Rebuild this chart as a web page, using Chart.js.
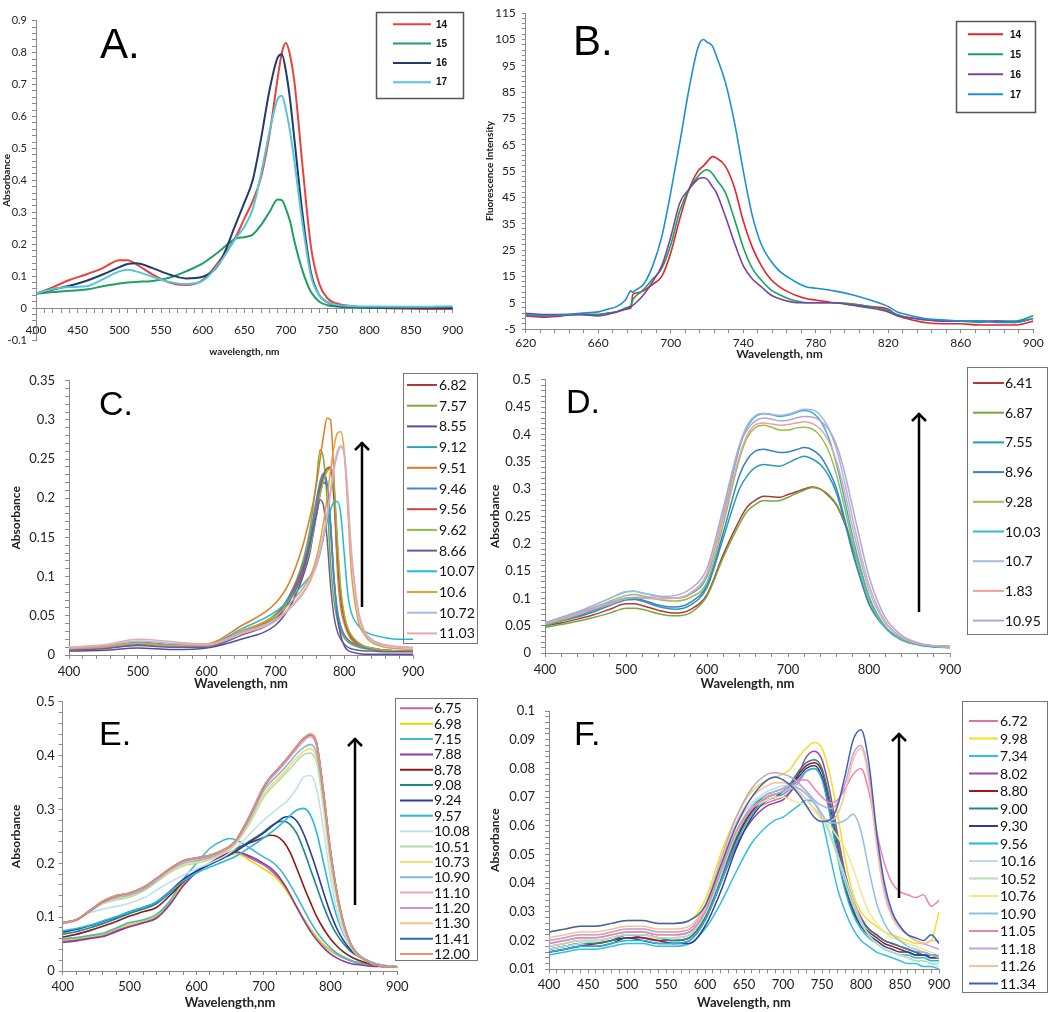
<!DOCTYPE html>
<html><head><meta charset="utf-8">
<script src="https://cdn.jsdelivr.net/npm/chart.js@4.4.0/dist/chart.umd.min.js"></script>
<style>
html,body{margin:0;padding:0;background:#fff;}
body{width:1050px;height:1012px;position:relative;overflow:hidden;}
.panel{position:absolute;}
</style></head><body>
<div class="panel" id="pA"><canvas></canvas></div>
<div class="panel" id="pB"><canvas></canvas></div>
<div class="panel" id="pC"><canvas></canvas></div>
<div class="panel" id="pD"><canvas></canvas></div>
<div class="panel" id="pE"><canvas></canvas></div>
<div class="panel" id="pF"><canvas></canvas></div>
<script>
// ---------------- Panel A: absorbance, compounds 14-17 ----------------
const wavelengthsA = [400,420,440,460,480,500,510,520,540,560,580,600,620,640,650,660,670,680,690,695,700,705,710,720,730,740,750,760,780,800,850,900];
const absA14 = [0.045,0.065,0.088,0.105,0.125,0.15,0.15,0.138,0.105,0.08,0.072,0.088,0.148,0.225,0.28,0.335,0.41,0.54,0.72,0.80,0.83,0.79,0.71,0.44,0.19,0.075,0.03,0.015,0.006,0.002,-0.002,-0.003];
const absA15 = [0.045,0.05,0.054,0.058,0.068,0.077,0.08,0.082,0.085,0.095,0.115,0.14,0.178,0.218,0.222,0.23,0.26,0.3,0.34,0.338,0.31,0.27,0.21,0.115,0.05,0.02,0.009,0.005,0.002,0.001,0,0];
const absA16 = [0.045,0.058,0.07,0.085,0.105,0.128,0.138,0.14,0.125,0.105,0.093,0.098,0.14,0.265,0.33,0.4,0.53,0.68,0.785,0.795,0.74,0.65,0.53,0.29,0.11,0.04,0.018,0.008,0.004,0.002,0.001,0];
const absA17 = [0.045,0.06,0.066,0.068,0.09,0.115,0.12,0.115,0.098,0.082,0.075,0.085,0.14,0.22,0.255,0.31,0.42,0.55,0.655,0.665,0.62,0.55,0.46,0.26,0.1,0.04,0.018,0.01,0.006,0.005,0.004,0.006];
const labelsA = ['14','15','16','17'];
const colorsA = ['#e8433a','#20a060','#243a6e','#56c5d8'];

// ---------------- Panel B: fluorescence, compounds 14-17 ----------------
const wavelengthsB = [620,630,640,650,660,665,670,675,678,679,680,685,690,695,700,705,710,715,718,720,723,725,730,735,740,745,750,755,760,765,770,775,780,790,800,810,820,825,830,840,850,860,870,880,890,900];
const fluoB14 = [0,-0.5,0,0.5,0.5,1,1.5,2.5,3,8,8.5,9.5,12,15,24,37,48,55,57,58.5,60.5,60,57,49,36,26,19,14,11,9,7.5,6.5,6,5,4.5,3.5,2.5,0,-1,-2.5,-3,-3,-3.5,-3.5,-3.5,-2];
const fluoB15 = [0.5,0,0.5,0.5,0.5,1,1.5,3,4,6,7,10,14,18,27,40,48,53,55,55.5,54,52,47,37,26,18,13.5,10,8,6.5,5.5,5,5,5,4.5,3.5,2,0.5,-0.5,-1.5,-2,-2,-2.5,-2,-2,0];
const fluoB16 = [1,0.5,0.5,0.5,0,0.5,1.5,2.5,3.5,4,4.5,8,13,19,30,43,48,52,52.5,52,49,47,38,28,19,14,11,8,6.5,5.5,5,5,5,5,4,3,1.5,0,-0.5,-1.5,-2,-2,-2,-2,-2.5,-1];
const fluoB17 = [0.5,0,0.3,1,1.5,2.5,3.5,6,9.5,9,9.5,12,19,30,47,66,86,102,105,104,102.5,99,89,74,55,38,27,21,17,14.5,12.5,11,10.5,9.5,8,6,3.5,1.5,0.5,-1,-1.5,-2,-2,-2.5,-2.5,-1];
const labelsB = ['14','15','16','17'];
const colorsB = ['#e3232b','#1aa35c','#7a42a3','#1b8fd8'];

// ---------------- Panel C ----------------
const wavelengthsC = [400,450,500,550,600,650,700,720,740,750,755,760,765,770,775,780,785,790,795,800,805,810,820,830,840,860,880,900];
const absC_682 = [0.008,0.01,0.015,0.012,0.012,0.028,0.048,0.07,0.11,0.145,0.17,0.195,0.215,0.23,0.238,0.238,0.2,0.12,0.07,0.045,0.03,0.022,0.014,0.01,0.008,0.006,0.005,0.005];
const absC_757 = [0.008,0.01,0.013,0.012,0.012,0.03,0.052,0.075,0.12,0.16,0.19,0.225,0.262,0.25,0.2,0.12,0.07,0.045,0.03,0.022,0.017,0.014,0.01,0.008,0.007,0.005,0.005,0.005];
const absC_855 = [0.005,0.006,0.009,0.007,0.009,0.02,0.038,0.06,0.1,0.13,0.155,0.18,0.205,0.22,0.215,0.17,0.1,0.05,0.025,0.012,0.006,0.004,0.002,0.001,0.001,0.001,0.001,0.001];
const absC_912 = [0.007,0.009,0.013,0.011,0.012,0.03,0.05,0.075,0.115,0.15,0.175,0.2,0.222,0.232,0.215,0.16,0.095,0.055,0.035,0.025,0.02,0.016,0.012,0.01,0.008,0.006,0.005,0.005];
const absC_951 = [0.008,0.011,0.016,0.013,0.014,0.037,0.066,0.092,0.14,0.175,0.195,0.22,0.25,0.28,0.302,0.3,0.23,0.11,0.06,0.04,0.028,0.02,0.013,0.01,0.008,0.006,0.005,0.005];
const absC_946 = [0.007,0.009,0.014,0.012,0.012,0.03,0.05,0.074,0.113,0.148,0.172,0.197,0.218,0.23,0.22,0.17,0.1,0.058,0.037,0.026,0.02,0.016,0.012,0.009,0.008,0.006,0.005,0.005];
const absC_956 = [0.008,0.01,0.016,0.013,0.012,0.03,0.05,0.072,0.11,0.14,0.16,0.185,0.21,0.228,0.238,0.24,0.215,0.14,0.08,0.05,0.034,0.025,0.016,0.011,0.009,0.006,0.005,0.005];
const absC_962 = [0.008,0.01,0.015,0.012,0.012,0.028,0.048,0.07,0.105,0.135,0.155,0.18,0.205,0.222,0.234,0.238,0.22,0.15,0.085,0.052,0.035,0.026,0.016,0.011,0.009,0.006,0.005,0.005];
const absC_866 = [0.006,0.008,0.012,0.01,0.01,0.025,0.045,0.068,0.105,0.14,0.16,0.18,0.198,0.19,0.15,0.09,0.05,0.03,0.02,0.014,0.01,0.008,0.006,0.005,0.005,0.004,0.004,0.004];
const absC_1007 = [0.009,0.011,0.016,0.013,0.013,0.033,0.055,0.07,0.09,0.1,0.105,0.115,0.13,0.15,0.17,0.185,0.195,0.196,0.18,0.13,0.08,0.055,0.038,0.03,0.026,0.022,0.02,0.02];
const absC_1060 = [0.008,0.01,0.015,0.012,0.012,0.03,0.05,0.065,0.085,0.1,0.11,0.125,0.145,0.17,0.2,0.235,0.265,0.283,0.285,0.26,0.19,0.11,0.045,0.025,0.016,0.01,0.008,0.007];
const absC_1072 = [0.009,0.012,0.018,0.015,0.013,0.028,0.045,0.06,0.08,0.095,0.105,0.118,0.135,0.155,0.18,0.21,0.24,0.26,0.267,0.255,0.2,0.13,0.055,0.028,0.018,0.012,0.01,0.009];
const absC_1103 = [0.01,0.013,0.02,0.017,0.014,0.027,0.043,0.058,0.078,0.093,0.103,0.115,0.132,0.152,0.176,0.205,0.235,0.255,0.265,0.258,0.21,0.14,0.06,0.03,0.02,0.013,0.011,0.01];
const labelsC = ['6.82','7.57','8.55','9.12','9.51','9.46','9.56','9.62','8.66','10.07','10.6','10.72','11.03'];
const colorsC = ['#b03a3a','#7aab3a','#5a4a9a','#2aa5b8','#e07b22','#4a86c8','#cc4444','#8bbf4a','#6a5aa0','#22b8d8','#f39a30','#a8bfe0','#e8a8b0'];

// ---------------- Panel D ----------------
const wavelengthsD = [400,420,440,460,480,500,510,520,540,560,580,600,620,640,650,660,670,680,690,700,710,720,730,740,750,760,770,780,790,800,820,840,860,880,900];
const absD_641 = [0.05,0.055,0.062,0.07,0.08,0.09,0.09,0.087,0.078,0.073,0.08,0.107,0.18,0.243,0.268,0.28,0.287,0.286,0.285,0.29,0.295,0.3,0.304,0.3,0.288,0.27,0.237,0.193,0.148,0.1,0.048,0.025,0.016,0.013,0.012];
const absD_687 = [0.047,0.052,0.058,0.065,0.073,0.082,0.082,0.08,0.072,0.068,0.074,0.104,0.175,0.236,0.26,0.272,0.279,0.278,0.279,0.285,0.292,0.298,0.303,0.3,0.29,0.272,0.24,0.196,0.15,0.102,0.047,0.024,0.016,0.013,0.012];
const absD_755 = [0.05,0.058,0.066,0.075,0.087,0.097,0.098,0.095,0.085,0.08,0.088,0.12,0.21,0.3,0.325,0.34,0.345,0.343,0.342,0.348,0.355,0.36,0.355,0.345,0.325,0.292,0.24,0.182,0.133,0.09,0.046,0.024,0.015,0.011,0.01];
const absD_896 = [0.052,0.06,0.068,0.078,0.09,0.1,0.1,0.097,0.088,0.084,0.093,0.125,0.22,0.325,0.355,0.37,0.373,0.37,0.367,0.368,0.372,0.376,0.372,0.36,0.335,0.3,0.245,0.185,0.135,0.09,0.047,0.025,0.016,0.012,0.01];
const absD_928 = [0.052,0.06,0.07,0.082,0.095,0.105,0.107,0.105,0.098,0.095,0.102,0.13,0.235,0.355,0.395,0.413,0.417,0.413,0.408,0.408,0.412,0.413,0.41,0.397,0.37,0.325,0.265,0.2,0.145,0.097,0.046,0.024,0.016,0.013,0.012];
const absD_1003 = [0.055,0.065,0.075,0.087,0.1,0.112,0.113,0.11,0.104,0.1,0.108,0.14,0.25,0.375,0.415,0.433,0.438,0.436,0.433,0.435,0.44,0.444,0.44,0.425,0.395,0.345,0.28,0.212,0.153,0.103,0.048,0.025,0.016,0.012,0.01];
const absD_107 = [0.055,0.065,0.075,0.087,0.1,0.112,0.113,0.11,0.104,0.1,0.11,0.145,0.255,0.38,0.418,0.435,0.439,0.437,0.435,0.437,0.442,0.446,0.445,0.435,0.412,0.372,0.312,0.245,0.18,0.125,0.058,0.03,0.018,0.013,0.011];
const absD_183 = [0.053,0.062,0.07,0.08,0.09,0.1,0.101,0.1,0.099,0.1,0.11,0.145,0.245,0.36,0.4,0.418,0.421,0.419,0.417,0.418,0.421,0.423,0.42,0.41,0.388,0.35,0.295,0.228,0.168,0.115,0.055,0.028,0.017,0.013,0.011];
const absD_1095 = [0.055,0.064,0.073,0.083,0.093,0.1,0.102,0.102,0.103,0.105,0.118,0.155,0.265,0.38,0.41,0.425,0.43,0.428,0.425,0.426,0.43,0.433,0.432,0.425,0.41,0.38,0.33,0.265,0.2,0.14,0.065,0.033,0.019,0.013,0.01];
const labelsD = ['6.41','6.87','7.55','8.96','9.28','10.03','10.7','1.83','10.95'];
const colorsD = ['#b03a3a','#78a83a','#2a9ab0','#3a80c8','#98c050','#30b8d8','#a8b8e0','#eea0a0','#b0a8d0'];

// ---------------- Panel E ----------------
const wavelengthsE = [400,420,440,460,480,500,520,540,560,580,600,620,640,650,660,680,700,710,720,730,740,750,760,770,780,790,800,810,820,830,840,860,880,900];
const absE_675 = [0.055,0.058,0.062,0.066,0.075,0.083,0.09,0.1,0.125,0.16,0.185,0.2,0.213,0.218,0.22,0.21,0.197,0.188,0.176,0.16,0.14,0.118,0.097,0.078,0.062,0.048,0.038,0.03,0.024,0.019,0.015,0.011,0.008,0.007];
const absE_698 = [0.058,0.06,0.064,0.068,0.078,0.087,0.093,0.102,0.128,0.162,0.186,0.2,0.212,0.216,0.218,0.205,0.19,0.182,0.172,0.157,0.138,0.117,0.097,0.078,0.062,0.049,0.039,0.031,0.025,0.02,0.016,0.011,0.008,0.007];
const absE_715 = [0.06,0.062,0.066,0.07,0.08,0.09,0.095,0.105,0.13,0.17,0.2,0.228,0.243,0.246,0.243,0.228,0.212,0.205,0.195,0.18,0.16,0.138,0.115,0.092,0.072,0.056,0.043,0.033,0.026,0.02,0.016,0.012,0.009,0.008];
const absE_788 = [0.053,0.056,0.06,0.064,0.073,0.082,0.089,0.098,0.123,0.158,0.183,0.2,0.215,0.22,0.221,0.213,0.2,0.192,0.18,0.163,0.142,0.118,0.095,0.074,0.057,0.043,0.032,0.024,0.018,0.014,0.012,0.009,0.008,0.007];
const absE_878 = [0.063,0.068,0.075,0.083,0.092,0.102,0.11,0.118,0.14,0.165,0.185,0.2,0.213,0.22,0.228,0.238,0.248,0.252,0.25,0.24,0.22,0.19,0.158,0.128,0.1,0.078,0.06,0.046,0.035,0.027,0.021,0.013,0.009,0.007];
const absE_908 = [0.068,0.073,0.08,0.088,0.097,0.107,0.115,0.125,0.145,0.168,0.185,0.198,0.21,0.217,0.225,0.242,0.258,0.268,0.276,0.278,0.272,0.255,0.225,0.19,0.155,0.12,0.09,0.067,0.05,0.037,0.028,0.016,0.01,0.008];
const absE_924 = [0.072,0.077,0.084,0.092,0.1,0.11,0.118,0.128,0.148,0.17,0.186,0.198,0.21,0.216,0.223,0.24,0.256,0.266,0.276,0.285,0.287,0.278,0.255,0.222,0.185,0.145,0.108,0.078,0.056,0.04,0.029,0.016,0.01,0.008];
const absE_957 = [0.075,0.079,0.085,0.093,0.101,0.11,0.118,0.128,0.147,0.167,0.182,0.193,0.203,0.208,0.214,0.23,0.247,0.256,0.266,0.277,0.289,0.299,0.302,0.29,0.255,0.2,0.145,0.1,0.068,0.046,0.032,0.017,0.01,0.008];
const absE_1008 = [0.088,0.095,0.108,0.115,0.12,0.126,0.135,0.15,0.165,0.178,0.19,0.2,0.212,0.22,0.23,0.255,0.28,0.29,0.3,0.31,0.322,0.34,0.36,0.363,0.335,0.26,0.175,0.11,0.07,0.045,0.03,0.016,0.01,0.008];
const absE_1051 = [0.09,0.095,0.11,0.125,0.132,0.137,0.148,0.165,0.183,0.195,0.2,0.207,0.218,0.226,0.238,0.275,0.322,0.338,0.35,0.363,0.376,0.39,0.402,0.405,0.385,0.3,0.2,0.13,0.078,0.046,0.03,0.015,0.009,0.007];
const absE_1073 = [0.09,0.095,0.11,0.126,0.134,0.139,0.15,0.167,0.185,0.197,0.202,0.209,0.22,0.228,0.24,0.278,0.327,0.343,0.355,0.368,0.382,0.396,0.408,0.413,0.393,0.308,0.207,0.135,0.081,0.048,0.031,0.015,0.009,0.007];
const absE_1090 = [0.088,0.094,0.11,0.127,0.136,0.141,0.151,0.168,0.187,0.2,0.205,0.211,0.222,0.23,0.242,0.283,0.334,0.35,0.362,0.375,0.389,0.404,0.415,0.421,0.402,0.318,0.215,0.14,0.085,0.05,0.032,0.015,0.009,0.007];
const absE_1110 = [0.089,0.094,0.111,0.128,0.138,0.143,0.153,0.17,0.188,0.203,0.208,0.213,0.223,0.23,0.243,0.287,0.338,0.356,0.369,0.383,0.398,0.413,0.427,0.435,0.415,0.326,0.222,0.143,0.087,0.051,0.032,0.015,0.009,0.007];
const absE_1120 = [0.09,0.094,0.111,0.129,0.139,0.144,0.154,0.171,0.189,0.204,0.209,0.214,0.224,0.231,0.244,0.288,0.34,0.358,0.371,0.385,0.4,0.416,0.43,0.438,0.418,0.328,0.223,0.144,0.087,0.051,0.033,0.015,0.009,0.007];
const absE_1130 = [0.09,0.095,0.112,0.13,0.14,0.145,0.155,0.172,0.19,0.205,0.21,0.215,0.225,0.232,0.245,0.29,0.342,0.36,0.373,0.387,0.402,0.418,0.432,0.44,0.42,0.33,0.225,0.145,0.088,0.052,0.033,0.015,0.009,0.007];
const absE_1141 = [0.09,0.095,0.112,0.129,0.14,0.145,0.155,0.172,0.19,0.205,0.21,0.215,0.225,0.232,0.245,0.29,0.341,0.36,0.373,0.387,0.402,0.418,0.432,0.439,0.42,0.33,0.225,0.145,0.088,0.052,0.033,0.015,0.009,0.007];
const absE_1200 = [0.09,0.095,0.112,0.13,0.14,0.145,0.155,0.172,0.19,0.205,0.21,0.215,0.225,0.232,0.245,0.29,0.342,0.36,0.373,0.387,0.402,0.418,0.432,0.44,0.42,0.33,0.225,0.145,0.088,0.052,0.033,0.015,0.009,0.007];
const labelsE = ['6.75','6.98','7.15','7.88','8.78','9.08','9.24','9.57','10.08','10.51','10.73','10.90','11.10','11.20','11.30','11.41','12.00'];
const colorsE = ['#c060b0','#e8d800','#40b8c8','#8a3aa8','#8b1a1a','#1a8a80','#2a3a98','#28b8e0','#c0e0ea','#b8d8a8','#f0e070','#80b8e8','#f0a0c8','#c098d0','#f8c090','#2a6ab8','#f09070'];

// ---------------- Panel F ----------------
const wavelengthsF = [400,420,440,460,480,500,520,540,560,580,600,620,640,660,680,690,700,710,720,730,740,750,760,770,780,790,800,810,820,830,840,850,860,870,880,890,900];
const absF_672 = [0.018,0.019,0.02,0.02,0.021,0.022,0.022,0.021,0.021,0.022,0.03,0.043,0.056,0.065,0.068,0.069,0.07,0.072,0.075,0.079,0.08,0.077,0.068,0.055,0.043,0.034,0.028,0.024,0.022,0.02,0.019,0.018,0.017,0.016,0.016,0.015,0.014];
const absF_998 = [0.023,0.024,0.025,0.025,0.026,0.027,0.027,0.026,0.026,0.027,0.034,0.05,0.063,0.072,0.076,0.077,0.078,0.08,0.084,0.087,0.089,0.087,0.078,0.064,0.048,0.036,0.03,0.027,0.025,0.023,0.022,0.021,0.02,0.019,0.019,0.02,0.03];
const absF_734 = [0.015,0.016,0.017,0.017,0.018,0.019,0.019,0.018,0.018,0.019,0.024,0.033,0.044,0.054,0.06,0.062,0.063,0.065,0.067,0.069,0.068,0.062,0.05,0.038,0.03,0.024,0.02,0.018,0.016,0.015,0.014,0.013,0.012,0.012,0.011,0.011,0.01];
const absF_802 = [0.017,0.018,0.019,0.019,0.02,0.022,0.021,0.02,0.02,0.021,0.028,0.04,0.053,0.062,0.067,0.068,0.069,0.072,0.078,0.084,0.086,0.083,0.072,0.057,0.043,0.034,0.028,0.024,0.022,0.02,0.019,0.018,0.017,0.016,0.015,0.015,0.014];
const absF_880 = [0.016,0.017,0.018,0.019,0.02,0.021,0.021,0.02,0.019,0.02,0.027,0.04,0.055,0.065,0.07,0.071,0.072,0.074,0.078,0.081,0.082,0.079,0.068,0.053,0.04,0.031,0.026,0.023,0.021,0.019,0.018,0.017,0.016,0.015,0.015,0.014,0.014];
const absF_900 = [0.017,0.018,0.019,0.019,0.02,0.022,0.022,0.021,0.02,0.021,0.028,0.041,0.056,0.066,0.071,0.072,0.073,0.075,0.079,0.082,0.083,0.08,0.069,0.054,0.041,0.032,0.027,0.024,0.022,0.02,0.019,0.018,0.017,0.016,0.015,0.015,0.015];
const absF_930 = [0.016,0.017,0.018,0.018,0.019,0.021,0.02,0.019,0.019,0.019,0.025,0.037,0.052,0.063,0.069,0.07,0.072,0.074,0.077,0.08,0.081,0.077,0.065,0.05,0.038,0.03,0.025,0.022,0.02,0.018,0.017,0.016,0.016,0.015,0.015,0.014,0.014];
const absF_956 = [0.016,0.017,0.018,0.018,0.019,0.02,0.02,0.019,0.019,0.02,0.027,0.04,0.054,0.064,0.069,0.07,0.071,0.073,0.076,0.079,0.08,0.076,0.064,0.049,0.037,0.029,0.024,0.021,0.019,0.017,0.016,0.015,0.015,0.014,0.014,0.013,0.013];
const absF_1016 = [0.017,0.018,0.019,0.02,0.021,0.022,0.022,0.021,0.021,0.022,0.03,0.045,0.06,0.068,0.072,0.073,0.074,0.074,0.074,0.072,0.069,0.064,0.058,0.05,0.042,0.034,0.027,0.022,0.019,0.017,0.016,0.015,0.014,0.013,0.013,0.012,0.011];
const absF_1052 = [0.018,0.019,0.02,0.02,0.021,0.022,0.022,0.021,0.021,0.022,0.029,0.043,0.057,0.066,0.07,0.071,0.072,0.073,0.073,0.071,0.068,0.063,0.057,0.049,0.04,0.032,0.026,0.022,0.019,0.017,0.016,0.015,0.014,0.013,0.013,0.012,0.012];
const absF_1076 = [0.02,0.021,0.022,0.022,0.023,0.024,0.024,0.023,0.023,0.024,0.031,0.045,0.058,0.066,0.069,0.07,0.07,0.069,0.068,0.067,0.065,0.062,0.06,0.056,0.052,0.045,0.037,0.03,0.026,0.023,0.021,0.02,0.019,0.018,0.017,0.016,0.015];
const absF_1090 = [0.019,0.02,0.021,0.021,0.022,0.023,0.023,0.022,0.022,0.023,0.03,0.044,0.058,0.067,0.071,0.072,0.073,0.074,0.073,0.071,0.068,0.064,0.061,0.061,0.062,0.064,0.058,0.045,0.033,0.026,0.022,0.02,0.018,0.017,0.016,0.015,0.014];
const absF_1105 = [0.019,0.02,0.021,0.021,0.022,0.023,0.023,0.022,0.022,0.023,0.03,0.044,0.058,0.066,0.07,0.071,0.072,0.074,0.076,0.076,0.073,0.07,0.068,0.069,0.073,0.078,0.08,0.072,0.058,0.047,0.04,0.037,0.036,0.035,0.036,0.032,0.034];
const absF_1118 = [0.02,0.021,0.022,0.022,0.023,0.024,0.024,0.023,0.023,0.024,0.032,0.048,0.063,0.073,0.078,0.0785,0.078,0.077,0.075,0.072,0.069,0.067,0.066,0.068,0.075,0.085,0.088,0.078,0.055,0.038,0.029,0.025,0.022,0.02,0.019,0.018,0.017];
const absF_1126 = [0.021,0.022,0.023,0.023,0.024,0.025,0.025,0.024,0.024,0.025,0.032,0.047,0.061,0.07,0.074,0.075,0.075,0.074,0.072,0.069,0.066,0.063,0.062,0.064,0.072,0.083,0.087,0.076,0.053,0.036,0.028,0.024,0.022,0.02,0.019,0.02,0.02];
const absF_1134 = [0.023,0.024,0.025,0.025,0.026,0.027,0.027,0.026,0.026,0.027,0.032,0.046,0.06,0.07,0.076,0.077,0.076,0.074,0.071,0.067,0.063,0.0615,0.062,0.067,0.078,0.09,0.0935,0.082,0.058,0.04,0.03,0.025,0.022,0.021,0.02,0.022,0.019];
const labelsF = ['6.72','9.98','7.34','8.02','8.80','9.00','9.30','9.56','10.16','10.52','10.76','10.90','11.05','11.18','11.26','11.34'];
const colorsF = ['#e070a8','#f0e020','#30c0e0','#a040a0','#a01818','#208888','#304090','#20b8d8','#b8e0e8','#b8e0b0','#f0e890','#90c0e8','#f080b0','#c0a0d8','#f8c0a0','#4060b8'];

// ---------------- rendering ----------------
const FONT = 'Lato, "Open Sans", "DejaVu Sans", sans-serif';
const ARIAL = '"Liberation Sans", Arial, sans-serif';

const overlay = {
  id: 'overlay',
  afterDraw(chart, args, o) {
    const ctx = chart.ctx, ox = o.ox, oy = o.oy;
    ctx.save();
    if (o.letter) {
      ctx.fillStyle = '#000';
      ctx.font = o.letter.font;
      ctx.textBaseline = 'alphabetic';
      ctx.textAlign = 'left';
      ctx.fillText(o.letter.text, o.letter.x - ox, o.letter.y - oy);
    }
    if (o.arrow) {
      const a = o.arrow;
      ctx.strokeStyle = '#000'; ctx.lineWidth = 2.5; ctx.lineCap = 'butt';
      ctx.beginPath(); ctx.moveTo(a.x - ox, a.y2 - oy); ctx.lineTo(a.x - ox, a.y1 - oy); ctx.stroke();
      ctx.beginPath();
      ctx.moveTo(a.x - ox - 7, a.y1 - oy + 8); ctx.lineTo(a.x - ox, a.y1 - oy + 1); ctx.lineTo(a.x - ox + 7, a.y1 - oy + 8);
      ctx.stroke();
    }
    if (o.legend) {
      const L = o.legend;
      ctx.strokeStyle = L.border; ctx.lineWidth = L.bw;
      ctx.strokeRect(L.x - ox + 0.5, L.y - oy + 0.5, L.w, L.h);
      ctx.font = L.font; ctx.textBaseline = 'middle'; ctx.textAlign = 'left';
      chart.data.datasets.forEach((ds, i) => {
        const yy = L.firstY + i * L.rowH - oy;
        ctx.strokeStyle = ds.borderColor; ctx.lineWidth = L.lw;
        ctx.beginPath(); ctx.moveTo(L.x1 - ox, yy); ctx.lineTo(L.x2 - ox, yy); ctx.stroke();
        ctx.fillStyle = '#111';
        ctx.fillText(ds.label, L.tx - ox, yy + 0.5);
      });
    }
    ctx.restore();
  }
};
Chart.register(overlay);

function isMajor(v, base, step) { const r = (v - base) / step; return Math.abs(r - Math.round(r)) < 1e-6; }
function fmt(v) { return String(parseFloat(v.toFixed(4))); }

function build(id, box, area, p) {
  const wrap = document.getElementById(id);
  Object.assign(wrap.style, {left: box.x + 'px', top: box.y + 'px', width: box.w + 'px', height: box.h + 'px'});
  const n = p.series.length;
  const datasets = p.series.map((vals, i) => ({
    label: p.labels[i],
    data: p.x.map((w, j) => ({x: w, y: vals[j]})),
    borderColor: p.colors[i],
    borderWidth: p.lw,
    pointRadius: 0,
    fill: false,
    cubicInterpolationMode: 'monotone',
    order: n - i
  }));
  const xHeight = p.xZero ? p.xHeight : (box.y + box.h - area.b);
  const padBottom = p.xZero ? (box.y + box.h - area.b) : 0;
  const axisCol = '#8a8a8a';
  new Chart(wrap.querySelector('canvas'), {
    type: 'line',
    data: {datasets},
    options: {
      responsive: true, maintainAspectRatio: false, animation: false,
      layout: {autoPadding: false, padding: {left: 0, top: area.t - box.y, right: box.x + box.w - area.r, bottom: padBottom}},
      plugins: {
        legend: {display: false}, tooltip: {enabled: false},
        overlay: {ox: box.x, oy: box.y, letter: p.letter, arrow: p.arrow, legend: p.legend}
      },
      scales: {
        x: {
          type: 'linear', min: p.xMin, max: p.xMax,
          position: p.xZero ? {y: 0} : 'bottom',
          ticks: {stepSize: p.xMinor, autoSkip: false, maxRotation: 0, color: '#222', padding: p.xTickPad,
            font: {family: FONT, size: p.tickSize},
            callback: v => isMajor(v, p.xMin, p.xMajor) ? fmt(v) : ''},
          grid: {drawOnChartArea: false, color: axisCol, tickLength: 4},
          border: {color: axisCol, width: 1},
          title: {display: true, text: p.xTitle, color: '#222', padding: {top: 0, bottom: 0},
            font: {family: FONT, size: p.xTitleSize, weight: 'bold'}},
          afterFit: s => { s.height = xHeight; }
        },
        y: {
          type: 'linear', min: p.yMin, max: p.yMax,
          ticks: {stepSize: p.yMinor, autoSkip: false, color: '#222', padding: p.yTickPad,
            font: {family: FONT, size: p.yTickSize || p.tickSize},
            callback: v => isMajor(v, p.yMin, p.yMajor) ? fmt(v) : ''},
          grid: {drawOnChartArea: false, color: axisCol, tickLength: 4},
          border: {color: axisCol, width: 1},
          title: {display: true, text: p.yTitle, color: '#222', padding: {top: p.yTitlePad, bottom: 0},
            font: {family: FONT, size: p.yTitleSize, weight: 'bold'}},
          afterFit: s => { s.width = area.l - box.x; }
        }
      }
    }
  });
}

build('pA', {x:0,y:0,w:480,h:362}, {l:36,t:20.7,r:452.7,b:340}, {
  x: wavelengthsA, series: [absA14, absA15, absA16, absA17], labels: labelsA, colors: colorsA, lw: 2,
  xMin:400, xMax:900, xMinor:10, xMajor:50, yMin:-0.1, yMax:0.9, yMinor:0.02, yMajor:0.1,
  xZero: true, xHeight: 50, tickSize: 12, yTickSize: 11, xTickPad: 11, yTickPad: 5,
  xTitle: 'wavelength, nm', xTitleSize: 10, yTitle: 'Absorbance', yTitleSize: 10, yTitlePad: 1,
  letter: {text: 'A.', x: 100, y: 58, font: '42px ' + ARIAL},
  legend: {x:376, y:12, w:87, h:86, firstY:24.3, rowH:19.3, x1:393, x2:431, tx:436, font:'bold 10px ' + ARIAL, lw:2, border:'#555', bw:1.5}
});
build('pB', {x:480,y:0,w:570,h:361}, {l:525.8,t:6,r:1033.3,b:329}, {
  x: wavelengthsB, series: [fluoB14, fluoB15, fluoB16, fluoB17], labels: labelsB, colors: colorsB, lw: 1.6,
  xMin:620, xMax:900, xMinor:8, xMajor:40, yMin:-5, yMax:115, yMinor:2, yMajor:10,
  tickSize: 12, xTickPad: 3, yTickPad: 6,
  xTitle: 'Wavelength, nm', xTitleSize: 12, yTitle: 'Fluorescence Intensity', yTitleSize: 10, yTitlePad: 4,
  letter: {text: 'B.', x: 573, y: 55, font: '42px ' + ARIAL},
  legend: {x:956, y:21, w:79, h:91, firstY:34.3, rowH:20, x1:968, x2:1003, tx:1010, font:'bold 10px ' + ARIAL, lw:2, border:'#555', bw:1.5}
});
build('pC', {x:0,y:362,w:480,h:330}, {l:69,t:380.7,r:413,b:655}, {
  x: wavelengthsC, series: [absC_682,absC_757,absC_855,absC_912,absC_951,absC_946,absC_956,absC_962,absC_866,absC_1007,absC_1060,absC_1072,absC_1103],
  labels: labelsC, colors: colorsC, lw: 1.5,
  xMin:400, xMax:900, xMinor:20, xMajor:100, yMin:0, yMax:0.35, yMinor:0.01, yMajor:0.05,
  tickSize: 13, xTickPad: 5, yTickPad: 10,
  xTitle: 'Wavelength, nm', xTitleSize: 13, yTitle: 'Absorbance', yTitleSize: 12, yTitlePad: 9,
  letter: {text: 'C.', x: 99, y: 415, font: '34px ' + ARIAL},
  arrow: {x: 362, y1: 442, y2: 607},
  legend: {x:403, y:373, w:74, h:270, firstY:385, rowH:20.7, x1:407, x2:437, tx:439, font:'14px ' + FONT, lw:2, border:'#777', bw:1}
});
build('pD', {x:480,y:362,w:570,h:330}, {l:545,t:372,r:950,b:653}, {
  x: wavelengthsD, series: [absD_641,absD_687,absD_755,absD_896,absD_928,absD_1003,absD_107,absD_183,absD_1095],
  labels: labelsD, colors: colorsD, lw: 1.5,
  xMin:400, xMax:900, xMinor:20, xMajor:100, yMin:0, yMax:0.5, yMinor:0.01, yMajor:0.05,
  tickSize: 13, xTickPad: 5, yTickPad: 10,
  xTitle: 'Wavelength, nm', xTitleSize: 13, yTitle: 'Absorbance', yTitleSize: 12, yTitlePad: 8,
  letter: {text: 'D.', x: 566, y: 413, font: '34px ' + ARIAL},
  arrow: {x: 919, y1: 413, y2: 612},
  legend: {x:967, y:367, w:80, h:267, firstY:383, rowH:29.7, x1:973, x2:1004, tx:1005, font:'14px ' + FONT, lw:2, border:'#777', bw:1}
});
build('pE', {x:0,y:690,w:480,h:321}, {l:62.7,t:701.7,r:397.3,b:971}, {
  x: wavelengthsE, series: [absE_675,absE_698,absE_715,absE_788,absE_878,absE_908,absE_924,absE_957,absE_1008,absE_1051,absE_1073,absE_1090,absE_1110,absE_1120,absE_1130,absE_1141,absE_1200],
  labels: labelsE, colors: colorsE, lw: 1.6,
  xMin:400, xMax:900, xMinor:20, xMajor:100, yMin:0, yMax:0.5, yMinor:0.02, yMajor:0.1,
  tickSize: 13, xTickPad: 4, yTickPad: 4,
  xTitle: 'Wavelength,nm', xTitleSize: 13, yTitle: 'Absorbance', yTitleSize: 12, yTitlePad: 9,
  letter: {text: 'E.', x: 99, y: 745, font: '34px ' + ARIAL},
  arrow: {x: 355, y1: 738, y2: 905},
  legend: {x:395, y:698, w:82, h:262, firstY:708.3, rowH:15.36, x1:400, x2:433, tx:434, font:'14px ' + FONT, lw:2, border:'#777', bw:1}
});
build('pF', {x:480,y:690,w:570,h:321}, {l:549,t:711,r:939,b:969.3}, {
  x: wavelengthsF, series: [absF_672,absF_998,absF_734,absF_802,absF_880,absF_900,absF_930,absF_956,absF_1016,absF_1052,absF_1076,absF_1090,absF_1105,absF_1118,absF_1126,absF_1134],
  labels: labelsF, colors: colorsF, lw: 1.5,
  xMin:400, xMax:900, xMinor:10, xMajor:50, yMin:0.01, yMax:0.1, yMinor:0.002, yMajor:0.01,
  tickSize: 13, xTickPad: 4, yTickPad: 10,
  xTitle: 'Wavelength, nm', xTitleSize: 13, yTitle: 'Absorbance', yTitleSize: 12, yTitlePad: 8,
  letter: {text: 'F.', x: 574, y: 745, font: '34px ' + ARIAL},
  arrow: {x: 899, y1: 733, y2: 898},
  legend: {x:962, y:701, w:85, h:291, firstY:721, rowH:17.5, x1:969, x2:998, tx:1000, font:'14px ' + FONT, lw:2, border:'#777', bw:1}
});
</script>
</body></html>
